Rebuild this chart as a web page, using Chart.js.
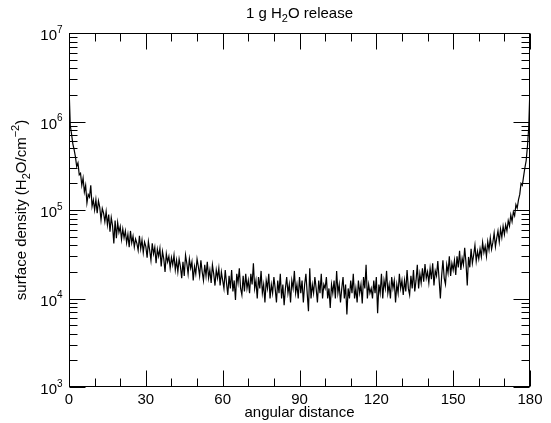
<!DOCTYPE html>
<html>
<head>
<meta charset="utf-8">
<script src="https://cdn.jsdelivr.net/npm/chart.js@4"></script>
<style>
  html, body { margin: 0; padding: 0; background: #fff; }
  #wrap { width: 551px; height: 423px; }
</style>
</head>
<body>
<div id="wrap"><canvas id="chart" width="551" height="423"></canvas></div>
<script>
// samples every half degree (H2O / cm^2)
const STEP = 0.5
const density = [
  2.5e6, 9.0e5, 7.2e5, 5.6e5, 4.8e5, 4.0e5, 3.1e5, 3.4e5, 2.5e5, 2.6e5, 1.9e5, 2.3e5, 1.6e5, 1.9e5, 1.2e5, 1.5e5, 1.4e5, 1.9e5, 1.1e5, 1.3e5, 1.0e5,
  1.31e5, 9.2e4, 1.27e5, 1.08e5, 7.7e4, 1.04e5, 9.2e4, 7.4e4, 9.6e4, 6.8e4, 8.9e4, 5.7e4, 8.2e4, 6.65e4, 4.2e4, 7.6e4, 4.8e4, 7.2e4, 5.6e4, 6.5e4,
  4.65e4, 6.1e4, 4.85e4, 5.8e4, 4.25e4, 5.3e4, 3.8e4, 5.8e4, 4.25e4, 5.05e4, 3.8e4, 4.7e4, 4.2e4, 3.5e4, 5.1e4, 3.65e4, 4.6e4, 3.3e4, 4.35e4, 3.85e4,
  2.9e4, 4.4e4, 3.5e4, 2.7e4, 4.2e4, 3.2e4, 3.8e4, 2.5e4, 3.6e4, 3.0e4, 3.7e4, 2.3e4, 3.4e4, 2.8e4, 2.0e4, 3.2e4, 2.6e4, 3.0e4, 2.2e4, 2.9e4,
  2.4e4, 3.1e4, 2.1e4, 2.7e4, 2.0e4, 2.8e4, 2.3e4, 1.7e4, 2.6e4, 1.8e4, 3.1e4, 2.5e4, 1.9e4, 2.8e4, 2.2e4, 2.6e4, 1.6e4, 2.3e4, 1.9e4, 2.8e4,
  2.3e4, 1.8e4, 2.7e4, 2.0e4, 1.6e4, 2.4e4, 1.8e4, 2.6e4, 1.7e4, 2.1e4, 1.5e4, 2.4e4, 1.9e4, 1.4e4, 2.1e4, 1.7e4, 2.2e4, 1.4e4, 2.0e4, 1.6e4,
  1.3e4, 2.1e4, 1.5e4, 1.1e4, 1.8e4, 1.3e4, 2.1e4, 1.2e4, 1.6e4, 9.6e3, 1.9e4, 1.5e4, 2.2e4, 1.3e4, 1.1e4, 1.8e4, 1.2e4, 1.9e4, 1.3e4, 1.6e4,
  1.15e4, 1.9e4, 1.44e4, 2.5e4, 1.3e4, 1.6e4, 1.0e4, 1.75e4, 1.3e4, 2.05e4, 1.15e4, 1.44e4, 9.0e3, 1.6e4, 1.3e4, 1.9e4, 1.0e4, 1.44e4, 1.15e4, 1.75e4,
  1.3e4, 9.0e3, 1.6e4, 1.15e4, 1.9e4, 1.0e4, 1.44e4, 8.4e3, 1.3e4, 1.75e4, 1.15e4, 1.44e4, 9.0e3, 1.6e4, 1.3e4, 2.05e4, 1.15e4, 1.44e4, 1.0e4, 1.75e4,
  1.15e4, 1.6e4, 9.0e3, 1.44e4, 1.9e4, 1.15e4, 7.2e3, 2.2e4, 1.0e4, 1.44e4, 1.15e4, 1.75e4, 1.3e4, 9.0e3, 1.6e4, 1.15e4, 1.9e4, 1.0e4, 1.44e4, 1.3e4,
  1.75e4, 1.0e4, 1.3e4, 7.8e3, 1.44e4, 1.15e4, 1.6e4, 1.0e4, 2.05e4, 1.15e4, 1.44e4, 9.0e3, 1.3e4, 1.75e4, 1.0e4, 1.44e4, 6.6e3, 1.3e4, 1.0e4, 1.6e4,
  1.15e4, 1.9e4, 1.0e4, 1.3e4, 9.0e3, 1.6e4, 1.15e4, 1.44e4, 8.8e3, 1.75e4, 1.3e4, 2.4e4, 1.0e4, 1.44e4, 1.15e4, 1.3e4, 1.0e4, 1.6e4, 1.15e4, 1.75e4,
  6.8e3, 1.44e4, 1.15e4, 1.9e4, 1.0e4, 1.6e4, 1.3e4, 2.05e4, 1.15e4, 1.44e4, 1.0e4, 1.75e4, 1.3e4, 1.6e4, 9.0e3, 1.44e4, 1.15e4, 1.9e4, 1.3e4, 1.6e4,
  1.1e4, 1.6e4, 1.2e4, 2.1e4, 1.3e4, 1.1e4, 1.8e4, 1.3e4, 2.1e4, 1.2e4, 1.6e4, 2.4e4, 1.3e4, 1.9e4, 1.5e4, 2.2e4, 1.55e4, 2.45e4, 1.7e4, 2.0e4,
  1.5e4, 2.2e4, 1.65e4, 2.5e4, 1.4e4, 2.05e4, 1.8e4, 2.65e4, 1.65e4, 1.0e4, 1.8e4, 2.7e4, 1.7e4, 1.45e4, 2.4e4, 1.95e4, 3.0e4, 1.8e4, 2.5e4, 2.1e4,
  2.7e4, 1.85e4, 3.0e4, 2.25e4, 3.45e4, 2.1e4, 2.85e4, 2.4e4, 3.75e4, 2.55e4, 1.4e4, 2.95e4, 2.25e4, 3.65e4, 2.5e4, 3.1e4, 4.0e4, 2.65e4, 3.4e4, 2.8e4,
  3.65e4, 2.95e4, 4.3e4, 3.3e4, 3.9e4, 3.0e4, 4.4e4, 3.55e4, 4.85e4, 3.6e4, 4.3e4, 5.5e4, 3.85e4, 4.8e4, 5.8e4, 4.35e4, 6.1e4, 4.9e4, 6.55e4, 5.3e4,
  6.8e4, 5.8e4, 7.6e4, 6.6e4, 8.8e4, 7.4e4, 9.5e4, 8.6e4, 1.15e5, 1.05e5, 1.3e5, 1.5e5, 2.0e5, 1.9e5, 2.4e5, 3.0e5, 3.6e5, 5.2e5, 8.5e5, 2.5e6
]
const xTicks = [0, 30, 60, 90, 120, 150, 180]
const xMinorStep = 10
const yDecades = [3, 4, 5, 6, 7]
const titleParts = [['1 g H', 'n'], ['2', 'sub'], ['O release', 'n']]
const yTitleParts = [['surface density (H', 'n'], ['2', 'sub'], ['O/cm', 'n'], ['\u22122', 'sup'], [')', 'n']]
const xTitle = 'angular distance'

const FONT = '"Liberation Sans", Arial, Helvetica, sans-serif'

function richText(ctx, parts, x, y, size) {
  const small = Math.round(size * 0.7)
  let total = 0
  parts.forEach(([t, k]) => {
    ctx.font = (k === 'n' ? size : small) + 'px ' + FONT
    total += ctx.measureText(t).width
  })
  let cx = x - total / 2
  ctx.textAlign = 'left'
  ctx.textBaseline = 'middle'
  parts.forEach(([t, k]) => {
    ctx.font = (k === 'n' ? size : small) + 'px ' + FONT
    let dy = 0
    if (k === 'sub') dy = size * 0.32
    if (k === 'sup') dy = -size * 0.4
    ctx.fillText(t, cx, y + dy)
    cx += ctx.measureText(t).width
  })
}

const frame = {
  id: 'frame',
  afterDatasetsDraw(chart) {
    const ctx = chart.ctx
    const { left, right, top, bottom } = chart.chartArea
    const xs = chart.scales.x
    const ys = chart.scales.y
    ctx.save()
    ctx.strokeStyle = '#000'
    ctx.lineWidth = 1
    const l = Math.round(left) + 0.5
    const r = Math.round(right) - 0.5
    const t = Math.round(top) + 0.5
    const b = Math.round(bottom) - 0.5
    ctx.strokeRect(l, t, r - l, b - t)

    ctx.beginPath()
    for (let v = xTicks[0]; v <= xTicks[xTicks.length - 1]; v += xMinorStep) {
      const px = Math.round(xs.getPixelForValue(v)) + 0.5
      const len = xTicks.includes(v) ? 16 : 8
      ctx.moveTo(px, b); ctx.lineTo(px, b - len)
      ctx.moveTo(px, t); ctx.lineTo(px, t + len)
    }
    yDecades.forEach((d, i) => {
      const last = i === yDecades.length - 1
      for (let m = 1; m <= (last ? 1 : 9); m++) {
        const py = Math.round(ys.getPixelForValue(m * Math.pow(10, d))) + 0.5
        const len = m === 1 ? 16 : 8
        ctx.moveTo(l, py); ctx.lineTo(l + len, py)
        ctx.moveTo(r, py); ctx.lineTo(r - len, py)
      }
    })
    ctx.stroke()

    // decade labels 10^n
    ctx.fillStyle = '#000'
    ctx.textBaseline = 'middle'
    yDecades.forEach(d => {
      const py = ys.getPixelForValue(Math.pow(10, d)) + 3
      ctx.font = '10px ' + FONT
      ctx.textAlign = 'left'
      ctx.fillText(String(d), 57, py - 6)
      ctx.font = '15px ' + FONT
      ctx.textAlign = 'right'
      ctx.fillText('10', 57, py)
    })

    richText(ctx, titleParts, (left + right) / 2, 14, 15)

    ctx.translate(22, (top + bottom) / 2)
    ctx.rotate(-Math.PI / 2)
    richText(ctx, yTitleParts, 0, 0, 15)
    ctx.restore()
  }
}

const ctx = document.getElementById('chart').getContext('2d')
const chart = new Chart(ctx, {
  type: 'line',
  data: {
    datasets: [
      {
        data: density.map((v, i) => ({ x: i * STEP, y: v })),
        borderColor: '#000',
        borderWidth: 1.2,
        pointRadius: 0,
        tension: 0,
        fill: false
      }
    ]
  },
  options: {
    responsive: false,
    animation: false,
    events: [],
    layout: { padding: { top: 33, right: 21, left: 0, bottom: 0 } },
    plugins: {
      legend: { display: false },
      tooltip: { enabled: false },
      title: { display: false }
    },
    scales: {
      x: {
        type: 'linear',
        min: 0,
        max: 180,
        afterBuildTicks: s => { s.ticks = xTicks.map(v => ({ value: v })) },
        afterFit: s => { s.height = 36 },
        grid: { display: false, drawTicks: false },
        border: { display: false },
        ticks: {
          color: '#000',
          padding: 4,
          maxRotation: 0,
          font: { family: FONT, size: 15 }
        },
        title: {
          display: true,
          text: xTitle,
          color: '#000',
          padding: { top: 0, bottom: 1 },
          font: { family: FONT, size: 15 }
        }
      },
      y: {
        type: 'logarithmic',
        min: 1e3,
        max: 1e7,
        afterFit: s => { s.width = 69 },
        grid: { display: false, drawTicks: false },
        border: { display: false },
        ticks: { display: false }
      }
    }
  },
  plugins: [frame]
})
</script>
</body>
</html>
